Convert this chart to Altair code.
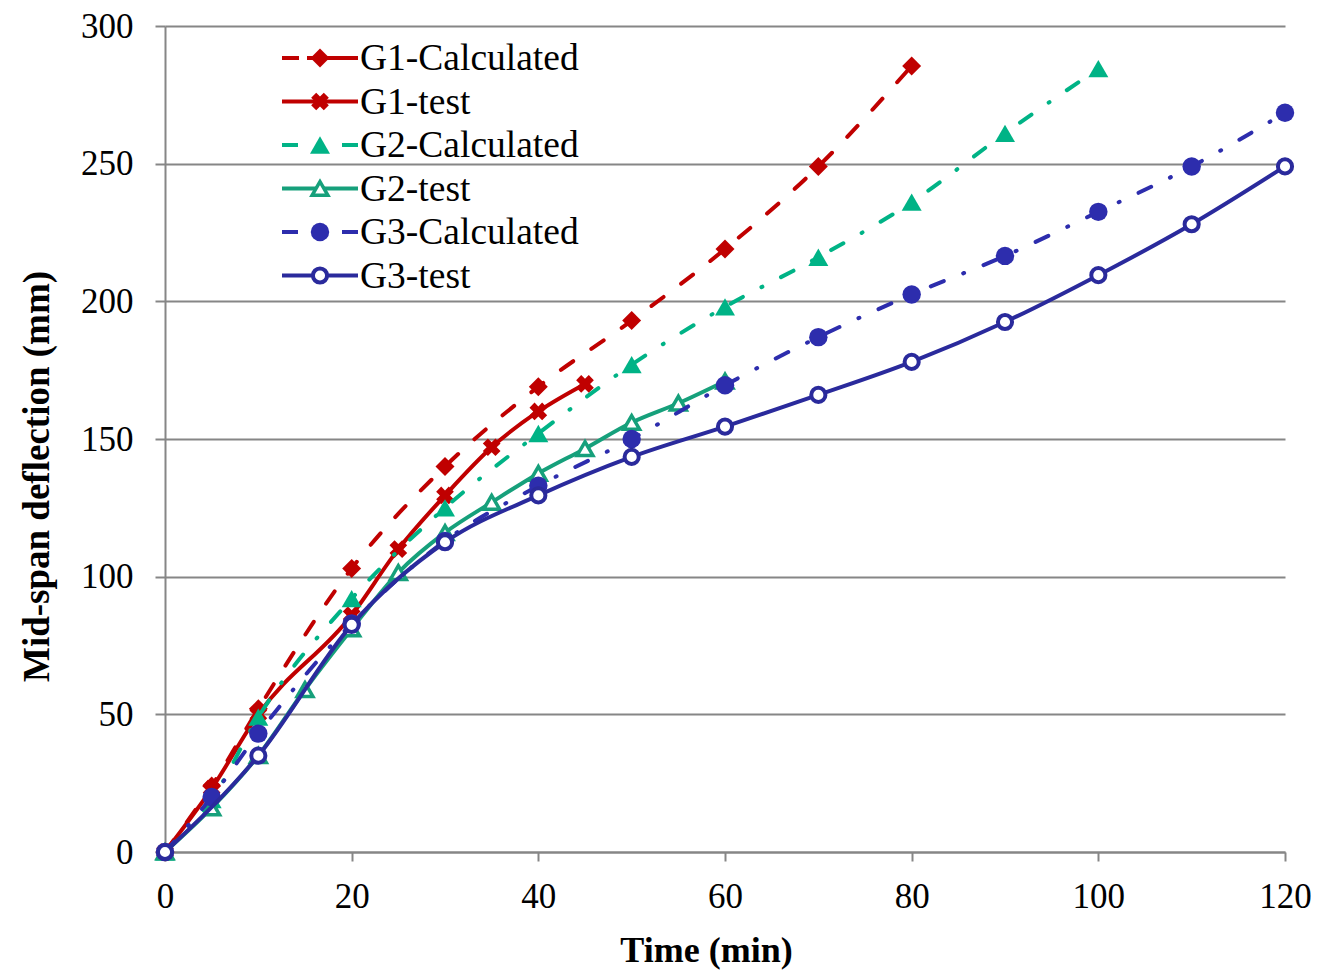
import altair as alt
import pandas as pd

# ---- data ----
t_g1c = [0, 5, 10, 20, 30, 40, 50, 60, 70, 80]
v_g1c = [0, 24, 52, 103, 140, 169, 193, 219, 249, 285.5]

t_g1t = [0, 5, 10, 20, 25, 30, 35, 40, 45]
v_g1t = [0, 23, 50, 86, 110, 129.5, 147, 160, 170]

t_g2c = [0, 5, 10, 20, 30, 40, 50, 60, 70, 80, 90, 100]
v_g2c = [0, 19, 49, 92, 125, 152, 177, 198, 216, 236, 261, 284.5]

t_g2t = [0, 5, 10, 15, 20, 25, 30, 35, 40, 45, 50, 55, 60]
v_g2t = [0, 16, 35, 59, 81, 101.5, 116, 127, 137.5, 146.5, 156, 163, 171]

t_g3c = [0, 5, 10, 20, 30, 40, 50, 60, 70, 80, 90, 100, 110, 120]
v_g3c = [0, 20, 43, 83, 113, 133, 150, 169.5, 187, 202.5, 216.5, 232.5, 249, 268.5]

t_g3t = [0, 10, 20, 30, 40, 50, 60, 70, 80, 90, 100, 110, 120]
v_g3t = [0, 35, 82.5, 112.5, 129.5, 143.5, 154.5, 166, 178, 192.5, 209.5, 228, 249]

names = ["G1-Calculated", "G1-test", "G2-Calculated", "G2-test", "G3-Calculated", "G3-test"]
x_ticks = [0, 20, 40, 60, 80, 100, 120]
y_ticks = [0, 50, 100, 150, 200, 250, 300]

series = [
    (t_g1c, v_g1c), (t_g1t, v_g1t), (t_g2c, v_g2c),
    (t_g2t, v_g2t), (t_g3c, v_g3c), (t_g3t, v_g3t),
]

RED = "#C00000"
GREEN_C = "#00B386"
GREEN_T = "#16A07B"
BLUE_C = "#2D2DAD"
BLUE_T = "#2A2A9C"
DASH = [15, 22]
DASHDOT = [14, 21, 1, 21]

styles = [
    dict(color=RED, dash=DASH, shape="diamond", size=360, fill=RED, sw=0, angle=0, ldash=[17, 8, 60]),
    dict(color=RED, dash=None, shape="cross", size=320, fill=RED, sw=0, angle=45, ldash=None),
    dict(color=GREEN_C, dash=DASHDOT, shape="triangle-up", size=400, fill=GREEN_C, sw=0, angle=0, ldash=[16, 44, 16]),
    dict(color=GREEN_T, dash=None, shape="triangle-up", size=250, fill="white", sw=3.5, angle=0, ldash=None),
    dict(color=BLUE_C, dash=DASHDOT, shape="circle", size=340, fill=BLUE_C, sw=0, angle=0, ldash=[16, 44, 16]),
    dict(color=BLUE_T, dash=None, shape="circle", size=200, fill="white", sw=4, angle=0, ldash=None),
]

FONT = "Liberation Serif"

xs = alt.Scale(domain=[0, 120], nice=False)
ys = alt.Scale(domain=[0, 300], nice=False)

x_axis = alt.Axis(values=x_ticks, grid=False, tickSize=9, labelPadding=18, labelFlush=False,
                  title="Time (min)", titlePadding=19, titleX=541)
y_axis = alt.Axis(values=y_ticks, grid=True, tickSize=10, labelPadding=22, labelFlush=False,
                  title="Mid-span deflection (mm)", titlePadding=24, titleY=450)

layers = []
for (t, v), name, st in zip(series, names, styles):
    df = pd.DataFrame({"t": t, "v": v, "s": name})
    line_kw = dict(color=st["color"], strokeWidth=4, interpolate="monotone", strokeCap="round")
    if st["dash"]:
        line_kw["strokeDash"] = st["dash"]
    base = alt.Chart(df).encode(
        x=alt.X("t:Q", scale=xs, axis=x_axis),
        y=alt.Y("v:Q", scale=ys, axis=y_axis),
    )
    layers.append(base.mark_line(**line_kw))
    layers.append(base.mark_point(shape=st["shape"], size=st["size"], filled=False,
                                  fill=st["fill"], fillOpacity=1, opacity=1,
                                  stroke=st["color"], strokeWidth=st["sw"], angle=st["angle"]))

# ---- manual legend (line + marker + label) ----
one = pd.DataFrame({"k": [0]})
row0, step = 32, 43.5
for i, (name, st) in enumerate(zip(names, styles)):
    yy = row0 + i * step
    rkw = dict(color=st["color"], strokeWidth=4)
    if st["ldash"]:
        rkw["strokeDash"] = st["ldash"]
    layers.append(alt.Chart(one).mark_rule(**rkw).encode(
        x=alt.value(117), x2=alt.value(193), y=alt.value(yy)))
    layers.append(alt.Chart(one).mark_point(shape=st["shape"], size=st["size"], filled=False,
                                            fill=st["fill"], fillOpacity=1, opacity=1,
                                            stroke=st["color"], strokeWidth=st["sw"],
                                            angle=st["angle"]).encode(
        x=alt.value(155), y=alt.value(yy)))
    layers.append(alt.Chart(one).mark_text(text=name, align="left", baseline="middle",
                                           font=FONT, fontSize=37.5, color="black").encode(
        x=alt.value(195), y=alt.value(yy + 1)))

chart = alt.layer(*layers).properties(
    width=1120, height=826,
    autosize=alt.AutoSizeParams(type="none"),
    padding={"left": 157, "top": 18, "right": 26, "bottom": 120},
).configure_view(stroke=None).configure_axis(
    labelFont=FONT, labelFontSize=35, labelColor="black",
    titleFont=FONT, titleFontSize=36, titleFontWeight="bold", titleColor="black",
    domainColor="#868686", domainWidth=2, tickColor="#868686", tickWidth=2,
    gridColor="#868686", gridWidth=2,
).configure_axisY(titleFontSize=37)

chart.save("out.html", embed_options={"renderer": "svg", "actions": False})
